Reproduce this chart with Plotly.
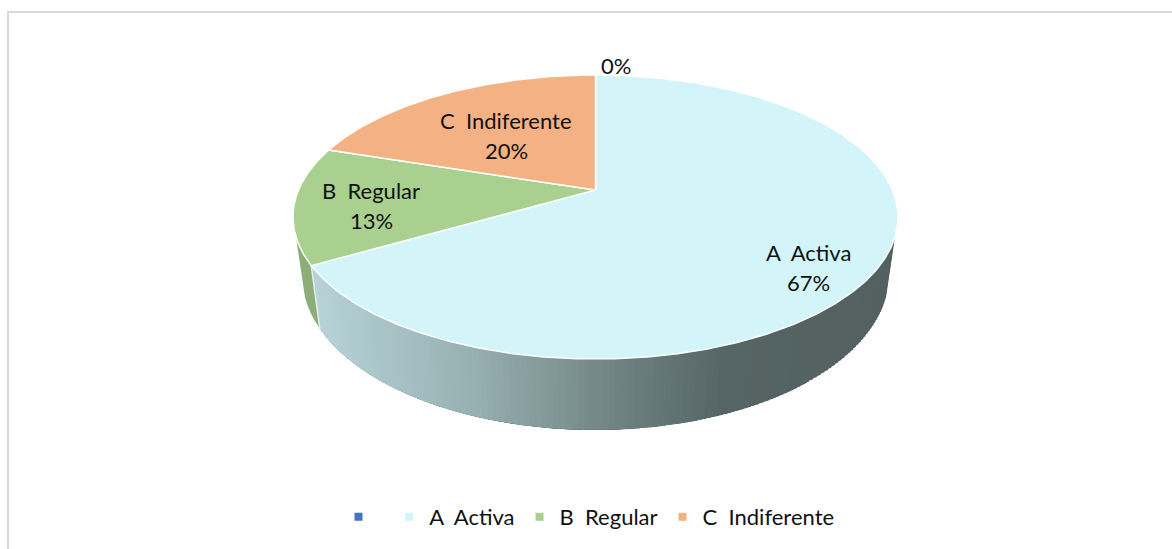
import math
import plotly.graph_objects as go

# ---- data ----
categories = ["\u00a0", "A\u00a0\u00a0Activa", "B\u00a0\u00a0Regular", "C\u00a0\u00a0Indiferente"]
shares = [0.0, 66.67, 13.33, 20.0]
percent_labels = ["0%", "67%", "13%", "20%"]
colors = ["#4472C4", "#D3F4F8", "#A9D08E", "#F4B183"]

# ---- projection of the tilted disc, in page pixels ----
WIDTH, HEIGHT = 1172, 549
CX, CY = 595.5, 190.0
RX, RY, PERSP = 297.0, 136.9, 0.19
WALL_SX, WALL_SY, WALL_DY = 0.97, 1.086, 56.5
WALL_START, WALL_END = 108.8, 251.2


def rim(deg):
    t = math.radians(deg)
    u, v = math.sin(t), math.cos(t)
    d = 1 + PERSP * v
    return RX * u / d, -RY * v / d


def top(deg):
    x, y = rim(deg)
    return CX + x, CY + y


def bottom(deg):
    x, y = rim(deg)
    return CX + WALL_SX * x, CY + WALL_DY + WALL_SY * y


def lerp_hex(stops, f):
    for (f0, c0), (f1, c1) in zip(stops, stops[1:]):
        if f <= f1:
            s = (f - f0) / (f1 - f0) if f1 > f0 else 0
            s = max(0.0, s)
            return "rgb(" + ",".join(str(round(a + (b - a) * s)) for a, b in zip(c0, c1)) + ")"
    return "rgb(" + ",".join(map(str, stops[-1][1])) + ")"


WALL_A_STOPS = [(318, (183, 211, 216)), (480, (150, 175, 177)), (620, (112, 130, 130)),
                (730, (85, 100, 100)), (900, (83, 97, 96))]
WALL_B = "#8DAE78"
WHITE = "#FFFFFF"

fig = go.Figure()


def poly(xs, ys, fill, line=None, width=1.0):
    fig.add_trace(go.Scatter(x=xs, y=ys, mode="lines", fill="toself", fillcolor=fill,
                             line=dict(color=line or fill, width=width),
                             hoverinfo="skip", showlegend=False))


# cumulative angles, clockwise from the top
edges = [0.0]
for s in shares:
    edges.append(edges[-1] + s / sum(shares) * 360)
a_end = edges[2]


def wall_strip(d0, d1, col):
    n = 4
    ds = [d0 + (d1 - d0) * j / n for j in range(n + 1)]
    pts = [top(d) for d in ds] + [bottom(d) for d in reversed(ds)]
    xs = [p[0] for p in pts] + [pts[0][0]]
    ys = [p[1] for p in pts] + [pts[0][1]]
    poly(xs, ys, col, width=0)


# side wall of slice A, shaded: strips overlap so no seams show (painted right to left)
deg = WALL_START
step = 1.0
while deg < a_end - 1e-6:
    mid = (top(deg)[0] + bottom(deg)[0]) / 2
    wall_strip(deg, a_end, lerp_hex(WALL_A_STOPS, mid))
    deg += step
wall_strip(a_end, WALL_END, WALL_B)

# white seam between the A and B walls
sx0, sy0 = top(a_end)
sx1, sy1 = bottom(a_end)
fig.add_trace(go.Scatter(x=[sx0, sx1], y=[sy0, sy1], mode="lines", line=dict(color="#E4EDE4", width=1.5),
                         hoverinfo="skip", showlegend=False))

# top faces
for i in range(1, 4):
    a0, a1 = edges[i], edges[i + 1]
    n = max(2, int((a1 - a0) * 2))
    pts = [top(a0 + (a1 - a0) * j / n) for j in range(n + 1)]
    xs = [CX] + [p[0] for p in pts] + [CX]
    ys = [CY] + [p[1] for p in pts] + [CY]
    poly(xs, ys, colors[i], line=WHITE, width=1.5)

# native legend
for name, c in zip(categories, colors):
    fig.add_trace(go.Scatter(x=[None], y=[None], mode="markers", name=name,
                             marker=dict(symbol="square", size=8, color=c)))

FONT = "Lato, Carlito, Calibri, sans-serif"
label_rows = [
    (616, 65, "0%"),
    (808, 252, categories[1]), (808, 282, percent_labels[1]),
    (371, 190, categories[2]), (371, 220, percent_labels[2]),
    (506, 120, categories[3]), (506, 150, percent_labels[3]),
]
annotations = [dict(x=x, y=y, text=t, showarrow=False, xref="x", yref="y",
                    xanchor="center", yanchor="middle",
                    font=dict(family=FONT, size=22, color="#111111"))
               for x, y, t in label_rows]

fig.update_layout(
    width=WIDTH, height=HEIGHT,
    margin=dict(l=0, r=0, t=0, b=0),
    paper_bgcolor="white", plot_bgcolor="white",
    xaxis=dict(range=[0, WIDTH], visible=False, fixedrange=True),
    yaxis=dict(range=[HEIGHT, 0], visible=False, fixedrange=True),
    annotations=annotations,
    shapes=[dict(type="rect", xref="x", yref="y", x0=8, y0=12, x1=WIDTH + 20, y1=HEIGHT + 20,
                 line=dict(color="#D9D9D9", width=2), fillcolor="rgba(0,0,0,0)", layer="below")],
    legend=dict(orientation="h", x=589 / WIDTH, xanchor="center", y=(HEIGHT - 517) / HEIGHT, yanchor="middle",
                bgcolor="rgba(0,0,0,0)", font=dict(family=FONT, size=22, color="#111111"),
                itemwidth=30, tracegroupgap=0),
    showlegend=True,
)

fig.write_html("out.html", config=dict(displayModeBar=False),
               post_script="document.body.style.margin='0';document.documentElement.style.overflow='hidden';")
